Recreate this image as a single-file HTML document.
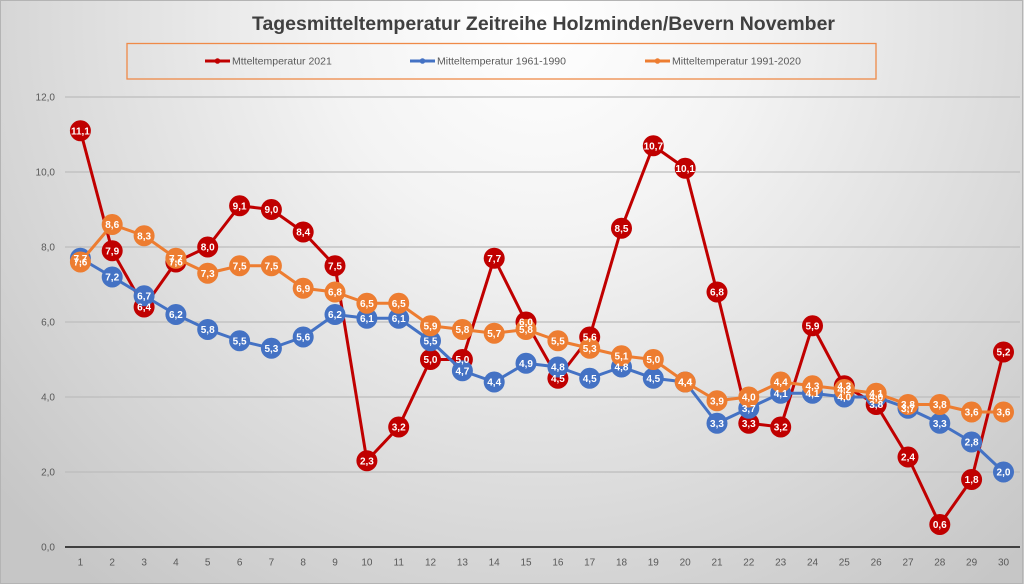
<!DOCTYPE html>
<html><head><meta charset="utf-8"><style>
html,body{margin:0;padding:0;width:1024px;height:584px;overflow:hidden;background:#fff}
svg{display:block}
text{font-family:"Liberation Sans",Arial,sans-serif}
.ax{font-size:10px;fill:#595959}
.lg{font-size:10.5px;fill:#595959}
.lb{font-size:10px;font-weight:bold;fill:#fff;text-anchor:middle}
</style></head><body>
<svg width="1024" height="584" viewBox="0 0 1024 584" xmlns="http://www.w3.org/2000/svg">
<defs>
<radialGradient id="bg" gradientUnits="userSpaceOnUse" cx="540" cy="20" r="720">
<stop offset="0" stop-color="#ffffff"/>
<stop offset="0.3" stop-color="#f3f3f3"/>
<stop offset="0.75" stop-color="#d6d6d6"/>
<stop offset="1" stop-color="#c6c6c6"/>
</radialGradient>
</defs>
<rect x="0" y="0" width="1024" height="584" fill="url(#bg)"/>
<rect x="0.5" y="0.5" width="1022" height="583" fill="none" stroke="#b4b4b4" stroke-width="1"/>

<text x="543.5" y="30" font-size="19.5" font-weight="bold" fill="#404040" text-anchor="middle" textLength="583" lengthAdjust="spacingAndGlyphs">Tagesmitteltemperatur Zeitreihe Holzminden/Bevern November</text>

<rect x="127" y="43.5" width="749" height="35.5" fill="none" stroke="#ef8a48" stroke-width="1.3"/>
<line x1="205" y1="61" x2="230" y2="61" stroke="#c00000" stroke-width="3"/><circle cx="217.5" cy="61" r="2.8" fill="#c00000"/>
<text class="lg" x="232" y="64.5">Mtteltemperatur 2021</text>
<line x1="410" y1="61" x2="435" y2="61" stroke="#4472c4" stroke-width="3"/><circle cx="422.5" cy="61" r="2.8" fill="#4472c4"/>
<text class="lg" x="437" y="64.5">Mitteltemperatur 1961-1990</text>
<line x1="645" y1="61" x2="670" y2="61" stroke="#ed7d31" stroke-width="3"/><circle cx="657.5" cy="61" r="2.8" fill="#ed7d31"/>
<text class="lg" x="672" y="64.5">Mitteltemperatur 1991-2020</text>

<g stroke="#bdbdbd" stroke-width="1.2">
<line x1="65" y1="97" x2="1020" y2="97"/>
<line x1="65" y1="172" x2="1020" y2="172"/>
<line x1="65" y1="247" x2="1020" y2="247"/>
<line x1="65" y1="322" x2="1020" y2="322"/>
<line x1="65" y1="397" x2="1020" y2="397"/>
<line x1="65" y1="472" x2="1020" y2="472"/>
</g>
<line x1="65" y1="547" x2="1020" y2="547" stroke="#404040" stroke-width="2"/>

<g class="ax" text-anchor="end">
<text x="55" y="100.5">12,0</text>
<text x="55" y="175.5">10,0</text>
<text x="55" y="250.5">8,0</text>
<text x="55" y="325.5">6,0</text>
<text x="55" y="400.5">4,0</text>
<text x="55" y="475.5">2,0</text>
<text x="55" y="550.5">0,0</text>
</g>
<g class="ax" text-anchor="middle">
<text x="80.4" y="565.5">1</text><text x="112.2" y="565.5">2</text><text x="144.1" y="565.5">3</text><text x="175.9" y="565.5">4</text><text x="207.7" y="565.5">5</text><text x="239.6" y="565.5">6</text><text x="271.4" y="565.5">7</text><text x="303.2" y="565.5">8</text><text x="335.0" y="565.5">9</text><text x="366.9" y="565.5">10</text><text x="398.7" y="565.5">11</text><text x="430.5" y="565.5">12</text><text x="462.4" y="565.5">13</text><text x="494.2" y="565.5">14</text><text x="526.0" y="565.5">15</text><text x="557.9" y="565.5">16</text><text x="589.7" y="565.5">17</text><text x="621.5" y="565.5">18</text><text x="653.3" y="565.5">19</text><text x="685.2" y="565.5">20</text><text x="717.0" y="565.5">21</text><text x="748.8" y="565.5">22</text><text x="780.7" y="565.5">23</text><text x="812.5" y="565.5">24</text><text x="844.3" y="565.5">25</text><text x="876.2" y="565.5">26</text><text x="908.0" y="565.5">27</text><text x="939.8" y="565.5">28</text><text x="971.6" y="565.5">29</text><text x="1003.5" y="565.5">30</text>
</g>

<!-- Red 2021 -->
<polyline fill="none" stroke="#c00000" stroke-width="3" stroke-linejoin="round" points="80.4,130.75 112.2,250.75 144.1,307 175.9,262 207.7,247 239.6,205.75 271.4,209.5 303.2,232 335.0,265.75 366.9,460.75 398.7,427 430.5,359.5 462.4,359.5 494.2,258.25 526.0,322 557.9,378.25 589.7,337 621.5,228.25 653.3,145.75 685.2,168.25 717.0,292 748.8,423.25 780.7,427 812.5,325.75 844.3,385.75 876.2,404.5 908.0,457 939.8,524.5 971.6,479.5 1003.5,352"/>
<g fill="#c00000">
<circle cx="80.4" cy="130.75" r="10.5"/><circle cx="112.2" cy="250.75" r="10.5"/><circle cx="144.1" cy="307" r="10.5"/><circle cx="175.9" cy="262" r="10.5"/><circle cx="207.7" cy="247" r="10.5"/><circle cx="239.6" cy="205.75" r="10.5"/><circle cx="271.4" cy="209.5" r="10.5"/><circle cx="303.2" cy="232" r="10.5"/><circle cx="335.0" cy="265.75" r="10.5"/><circle cx="366.9" cy="460.75" r="10.5"/><circle cx="398.7" cy="427" r="10.5"/><circle cx="430.5" cy="359.5" r="10.5"/><circle cx="462.4" cy="359.5" r="10.5"/><circle cx="494.2" cy="258.25" r="10.5"/><circle cx="526.0" cy="322" r="10.5"/><circle cx="557.9" cy="378.25" r="10.5"/><circle cx="589.7" cy="337" r="10.5"/><circle cx="621.5" cy="228.25" r="10.5"/><circle cx="653.3" cy="145.75" r="10.5"/><circle cx="685.2" cy="168.25" r="10.5"/><circle cx="717.0" cy="292" r="10.5"/><circle cx="748.8" cy="423.25" r="10.5"/><circle cx="780.7" cy="427" r="10.5"/><circle cx="812.5" cy="325.75" r="10.5"/><circle cx="844.3" cy="385.75" r="10.5"/><circle cx="876.2" cy="404.5" r="10.5"/><circle cx="908.0" cy="457" r="10.5"/><circle cx="939.8" cy="524.5" r="10.5"/><circle cx="971.6" cy="479.5" r="10.5"/><circle cx="1003.5" cy="352" r="10.5"/>
</g>

<!-- Blue 1961-1990 -->
<polyline fill="none" stroke="#4472c4" stroke-width="3" stroke-linejoin="round" points="80.4,258.25 112.2,277 144.1,295.75 175.9,314.5 207.7,329.5 239.6,340.75 271.4,348.25 303.2,337 335.0,314.5 366.9,318.25 398.7,318.25 430.5,340.75 462.4,370.75 494.2,382 526.0,363.25 557.9,367 589.7,378.25 621.5,367 653.3,378.25 685.2,382 717.0,423.25 748.8,408.25 780.7,393.25 812.5,393.25 844.3,397 876.2,397 908.0,408.25 939.8,423.25 971.6,442 1003.5,472"/>
<g fill="#4472c4">
<circle cx="80.4" cy="258.25" r="10.5"/><circle cx="112.2" cy="277" r="10.5"/><circle cx="144.1" cy="295.75" r="10.5"/><circle cx="175.9" cy="314.5" r="10.5"/><circle cx="207.7" cy="329.5" r="10.5"/><circle cx="239.6" cy="340.75" r="10.5"/><circle cx="271.4" cy="348.25" r="10.5"/><circle cx="303.2" cy="337" r="10.5"/><circle cx="335.0" cy="314.5" r="10.5"/><circle cx="366.9" cy="318.25" r="10.5"/><circle cx="398.7" cy="318.25" r="10.5"/><circle cx="430.5" cy="340.75" r="10.5"/><circle cx="462.4" cy="370.75" r="10.5"/><circle cx="494.2" cy="382" r="10.5"/><circle cx="526.0" cy="363.25" r="10.5"/><circle cx="557.9" cy="367" r="10.5"/><circle cx="589.7" cy="378.25" r="10.5"/><circle cx="621.5" cy="367" r="10.5"/><circle cx="653.3" cy="378.25" r="10.5"/><circle cx="685.2" cy="382" r="10.5"/><circle cx="717.0" cy="423.25" r="10.5"/><circle cx="748.8" cy="408.25" r="10.5"/><circle cx="780.7" cy="393.25" r="10.5"/><circle cx="812.5" cy="393.25" r="10.5"/><circle cx="844.3" cy="397" r="10.5"/><circle cx="876.2" cy="397" r="10.5"/><circle cx="908.0" cy="408.25" r="10.5"/><circle cx="939.8" cy="423.25" r="10.5"/><circle cx="971.6" cy="442" r="10.5"/><circle cx="1003.5" cy="472" r="10.5"/>
</g>

<!-- Orange 1991-2020 -->
<polyline fill="none" stroke="#ed7d31" stroke-width="3" stroke-linejoin="round" points="80.4,262 112.2,224.5 144.1,235.75 175.9,258.25 207.7,273.25 239.6,265.75 271.4,265.75 303.2,288.25 335.0,292 366.9,303.25 398.7,303.25 430.5,325.75 462.4,329.5 494.2,333.25 526.0,329.5 557.9,340.75 589.7,348.25 621.5,355.75 653.3,359.5 685.2,382 717.0,400.75 748.8,397 780.7,382 812.5,385.75 844.3,389.5 876.2,393.25 908.0,404.5 939.8,404.5 971.6,412 1003.5,412"/>
<g fill="#ed7d31">
<circle cx="80.4" cy="262" r="10.5"/><circle cx="112.2" cy="224.5" r="10.5"/><circle cx="144.1" cy="235.75" r="10.5"/><circle cx="175.9" cy="258.25" r="10.5"/><circle cx="207.7" cy="273.25" r="10.5"/><circle cx="239.6" cy="265.75" r="10.5"/><circle cx="271.4" cy="265.75" r="10.5"/><circle cx="303.2" cy="288.25" r="10.5"/><circle cx="335.0" cy="292" r="10.5"/><circle cx="366.9" cy="303.25" r="10.5"/><circle cx="398.7" cy="303.25" r="10.5"/><circle cx="430.5" cy="325.75" r="10.5"/><circle cx="462.4" cy="329.5" r="10.5"/><circle cx="494.2" cy="333.25" r="10.5"/><circle cx="526.0" cy="329.5" r="10.5"/><circle cx="557.9" cy="340.75" r="10.5"/><circle cx="589.7" cy="348.25" r="10.5"/><circle cx="621.5" cy="355.75" r="10.5"/><circle cx="653.3" cy="359.5" r="10.5"/><circle cx="685.2" cy="382" r="10.5"/><circle cx="717.0" cy="400.75" r="10.5"/><circle cx="748.8" cy="397" r="10.5"/><circle cx="780.7" cy="382" r="10.5"/><circle cx="812.5" cy="385.75" r="10.5"/><circle cx="844.3" cy="389.5" r="10.5"/><circle cx="876.2" cy="393.25" r="10.5"/><circle cx="908.0" cy="404.5" r="10.5"/><circle cx="939.8" cy="404.5" r="10.5"/><circle cx="971.6" cy="412" r="10.5"/><circle cx="1003.5" cy="412" r="10.5"/>
</g>

<!-- Labels red -->
<g class="lb">
<text x="80.4" y="134.3">11,1</text><text x="112.2" y="254.3">7,9</text><text x="144.1" y="310.5">6,4</text><text x="175.9" y="265.5">7,6</text><text x="207.7" y="250.5">8,0</text><text x="239.6" y="209.3">9,1</text><text x="271.4" y="213">9,0</text><text x="303.2" y="235.5">8,4</text><text x="335.0" y="269.3">7,5</text><text x="366.9" y="464.3">2,3</text><text x="398.7" y="430.5">3,2</text><text x="430.5" y="363">5,0</text><text x="462.4" y="363">5,0</text><text x="494.2" y="261.8">7,7</text><text x="526.0" y="325.5">6,0</text><text x="557.9" y="381.8">4,5</text><text x="589.7" y="340.5">5,6</text><text x="621.5" y="231.8">8,5</text><text x="653.3" y="149.3">10,7</text><text x="685.2" y="171.8">10,1</text><text x="717.0" y="295.5">6,8</text><text x="748.8" y="426.8">3,3</text><text x="780.7" y="430.5">3,2</text><text x="812.5" y="329.3">5,9</text><text x="844.3" y="389.3">4,3</text><text x="876.2" y="408">3,8</text><text x="908.0" y="460.5">2,4</text><text x="939.8" y="528">0,6</text><text x="971.6" y="483">1,8</text><text x="1003.5" y="355.5">5,2</text>
</g>
<!-- Labels blue -->
<g class="lb">
<text x="80.4" y="261.8">7,7</text><text x="112.2" y="280.5">7,2</text><text x="144.1" y="299.3">6,7</text><text x="175.9" y="318">6,2</text><text x="207.7" y="333">5,8</text><text x="239.6" y="344.3">5,5</text><text x="271.4" y="351.8">5,3</text><text x="303.2" y="340.5">5,6</text><text x="335.0" y="318">6,2</text><text x="366.9" y="321.8">6,1</text><text x="398.7" y="321.8">6,1</text><text x="430.5" y="344.3">5,5</text><text x="462.4" y="374.3">4,7</text><text x="494.2" y="385.5">4,4</text><text x="526.0" y="366.8">4,9</text><text x="557.9" y="370.5">4,8</text><text x="589.7" y="381.8">4,5</text><text x="621.5" y="370.5">4,8</text><text x="653.3" y="381.8">4,5</text><text x="685.2" y="385.5">4,4</text><text x="717.0" y="426.8">3,3</text><text x="748.8" y="411.8">3,7</text><text x="780.7" y="396.8">4,1</text><text x="812.5" y="396.8">4,1</text><text x="844.3" y="400.5">4,0</text><text x="876.2" y="400.5">4,0</text><text x="908.0" y="411.8">3,7</text><text x="939.8" y="426.8">3,3</text><text x="971.6" y="445.5">2,8</text><text x="1003.5" y="475.5">2,0</text>
</g>
<!-- Labels orange -->
<g class="lb">
<text x="80.4" y="265.5">7,6</text><text x="112.2" y="228">8,6</text><text x="144.1" y="239.3">8,3</text><text x="175.9" y="261.8">7,7</text><text x="207.7" y="276.8">7,3</text><text x="239.6" y="269.3">7,5</text><text x="271.4" y="269.3">7,5</text><text x="303.2" y="291.8">6,9</text><text x="335.0" y="295.5">6,8</text><text x="366.9" y="306.8">6,5</text><text x="398.7" y="306.8">6,5</text><text x="430.5" y="329.3">5,9</text><text x="462.4" y="333">5,8</text><text x="494.2" y="336.8">5,7</text><text x="526.0" y="333">5,8</text><text x="557.9" y="344.3">5,5</text><text x="589.7" y="351.8">5,3</text><text x="621.5" y="359.3">5,1</text><text x="653.3" y="363">5,0</text><text x="685.2" y="385.5">4,4</text><text x="717.0" y="404.3">3,9</text><text x="748.8" y="400.5">4,0</text><text x="780.7" y="385.5">4,4</text><text x="812.5" y="389.3">4,3</text><text x="844.3" y="393">4,2</text><text x="876.2" y="396.8">4,1</text><text x="908.0" y="408">3,8</text><text x="939.8" y="408">3,8</text><text x="971.6" y="415.5">3,6</text><text x="1003.5" y="415.5">3,6</text>
</g>
</svg>
</body></html>
